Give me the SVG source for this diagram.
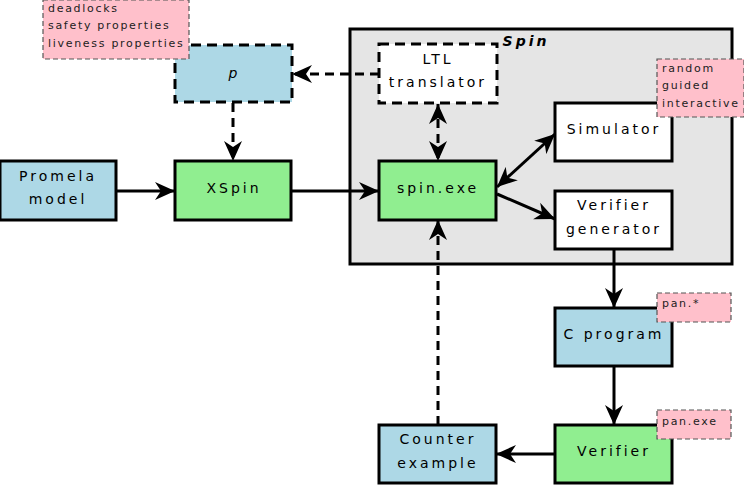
<svg xmlns="http://www.w3.org/2000/svg" width="744" height="488" viewBox="0 0 744 488">
<style>
.box{stroke:#000;stroke-width:3}
.blue{fill:#add8e6}
.green{fill:#90ee90}
.white{fill:#fff}
.dash{stroke-dasharray:10,6}
.note{fill:#ffc0cb;stroke:#555;stroke-width:1.2;stroke-dasharray:5,3}
text{font-family:"DejaVu Sans",sans-serif;fill:#000}
.t{font-size:14px;letter-spacing:3px;text-anchor:middle}
.n{font-size:11px;letter-spacing:1.7px;fill:#222}
.e{stroke:#000;stroke-width:3;fill:none}
.ed{stroke-dasharray:9,6}
</style>
<defs>
<marker id="a" markerUnits="userSpaceOnUse" markerWidth="22" markerHeight="20" refX="20" refY="10" orient="auto-start-reverse">
<path d="M0,1 L20,10 L0,19 L6,10 z" fill="#000"/>
</marker>
</defs>
<g id="spin">
<rect x="350" y="29" width="382" height="235" fill="#e5e5e5" stroke="#000" stroke-width="3"/>
<text x="526" y="46" style="font-size:14px;font-weight:bold;font-style:italic;letter-spacing:3px" text-anchor="middle">Spin</text>
</g>
<g id="edges">
<line class="e" x1="116" y1="191" x2="175" y2="191" marker-end="url(#a)"/>
<line class="e" x1="291" y1="191" x2="379" y2="191" marker-end="url(#a)"/>
<line class="e ed" x1="233" y1="103" x2="233" y2="161" marker-end="url(#a)"/>
<line class="e ed" x1="379" y1="74" x2="292" y2="74" marker-end="url(#a)"/>
<line class="e ed" x1="438" y1="104" x2="438" y2="161" marker-start="url(#a)" marker-end="url(#a)"/>
<line class="e" x1="497" y1="187" x2="555" y2="134" marker-start="url(#a)" marker-end="url(#a)"/>
<line class="e" x1="497" y1="194" x2="555" y2="219" marker-end="url(#a)"/>
<line class="e" x1="614" y1="250" x2="614" y2="308" marker-end="url(#a)"/>
<line class="e" x1="614" y1="366" x2="614" y2="425" marker-end="url(#a)"/>
<line class="e" x1="555" y1="454" x2="496" y2="454" marker-end="url(#a)"/>
<line class="e ed" x1="438" y1="425" x2="438" y2="220" marker-end="url(#a)"/>
</g>
<g id="promela">
<rect class="box blue" x="0" y="161" width="116" height="59"/>
<text class="t" x="58" y="181">Promela</text>
<text class="t" x="58" y="204">model</text>
</g>
<g id="xspin">
<rect class="box green" x="175" y="161" width="116" height="59"/>
<text class="t" x="234" y="193">XSpin</text>
</g>
<g id="p">
<rect class="box blue dash" x="175" y="45" width="117" height="57"/>
<text x="233" y="78" style="font-size:14px;font-style:italic" text-anchor="middle">p</text>
</g>
<g id="note1">
<rect class="note" x="43" y="0" width="146" height="59"/>
<text class="n" x="48" y="12">deadlocks</text>
<text class="n" x="48" y="29">safety properties</text>
<text class="n" x="48" y="47">liveness properties</text>
</g>
<g id="ltl">
<rect class="box white dash" x="379" y="44" width="118" height="59"/>
<text class="t" x="438" y="64">LTL</text>
<text class="t" x="438" y="87">translator</text>
</g>
<g id="spinexe">
<rect class="box green" x="379" y="161" width="117" height="59"/>
<text class="t" x="438" y="193">spin.exe</text>
</g>
<g id="simulator">
<rect class="box white" x="555" y="103" width="117" height="58"/>
<text class="t" x="614" y="134">Simulator</text>
</g>
<g id="vergen">
<rect class="box white" x="555" y="191" width="117" height="58"/>
<text class="t" x="614" y="210">Verifier</text>
<text class="t" x="614" y="234">generator</text>
</g>
<g id="note2">
<rect class="note" x="657" y="59" width="87" height="58"/>
<text class="n" x="662" y="72">random</text>
<text class="n" x="662" y="89">guided</text>
<text class="n" x="662" y="107">interactive</text>
</g>
<g id="cprogram">
<rect class="box blue" x="555" y="308" width="117" height="58"/>
<text class="t" x="614" y="339">C program</text>
</g>
<g id="note3">
<rect class="note" x="657" y="293" width="74" height="29"/>
<text class="n" x="662" y="307">pan.*</text>
</g>
<g id="verifier">
<rect class="box green" x="555" y="425" width="117" height="58"/>
<text class="t" x="614" y="456">Verifier</text>
</g>
<g id="note4">
<rect class="note" x="657" y="410" width="74" height="29"/>
<text class="n" x="662" y="425">pan.exe</text>
</g>
<g id="counter">
<rect class="box blue" x="379" y="425" width="117" height="58"/>
<text class="t" x="438" y="444">Counter</text>
<text class="t" x="438" y="468">example</text>
</g>
</svg>
